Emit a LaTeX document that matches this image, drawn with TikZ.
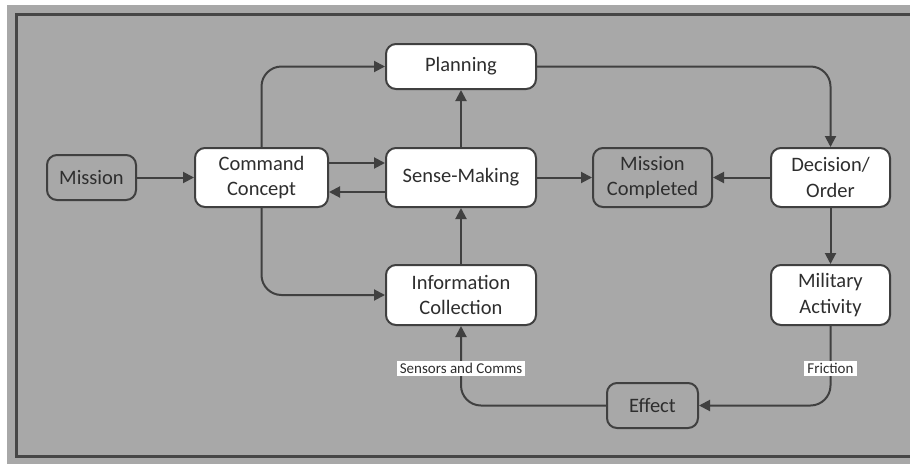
\documentclass[tikz,border=0pt]{standalone}
\usepackage{fontspec}
\setmainfont{Carlito}
\usetikzlibrary{arrows.meta}
\definecolor{bg}{HTML}{A8A8A8}
\definecolor{ln}{HTML}{404040}
\definecolor{tx}{HTML}{2E2E2E}
\tikzset{
  box/.style={draw=ln, line width=2pt, rounded corners=10pt, fill=white, text=tx,
    align=center, inner sep=0pt, font=\fontsize{20.5}{25.5}\selectfont},
  gbox/.style={box, fill=bg},
  arr/.style={draw=ln, line width=2pt, -{Triangle[length=11pt,width=11pt]}},
  lbl/.style={fill=white, text=tx, inner xsep=3pt, inner ysep=2pt, font=\fontsize{15}{17}\selectfont}
}
\begin{document}
\begin{tikzpicture}[x=1pt,y=-1pt]
\clip (0,0) rectangle (910,464);
\fill[white] (0,0) rectangle (910,464);
\fill[bg] (7,5) rectangle (910,464);
\draw[draw=ln!90!gray, line width=3pt] (16,14) rectangle (930,456);

\node[gbox, minimum width=89pt, minimum height=45pt] (mission) at (91.5,177.5) {Mission};
\node[box, minimum width=133pt, minimum height=59pt] (cc) at (261.5,177.5) {Command\\Concept};
\node[box, minimum width=150pt, minimum height=45pt] (plan) at (461,66.5) {Planning};
\node[box, minimum width=150pt, minimum height=59pt] (sm) at (461,177.5) {Sense-Making};
\node[gbox, minimum width=119pt, minimum height=59pt] (mc) at (652.5,177.5) {Mission\\Completed};
\node[box, minimum width=119pt, minimum height=59pt] (dec) at (830.5,177.5) {Decision/\\Order};
\node[box, minimum width=150pt, minimum height=60pt] (ic) at (461,295) {Information\\Collection};
\node[box, minimum width=119pt, minimum height=60pt] (ma) at (830.5,295) {Military\\Activity};
\node[gbox, minimum width=91pt, minimum height=45pt] (eff) at (652.5,405.5) {Effect};

\draw[arr] (mission) -- (cc);
\draw[arr, rounded corners=20pt] (cc.north) |- (plan.west);
\draw[arr, rounded corners=20pt] (cc.south) |- (ic.west);
\draw[arr] ([yshift=14.5pt]cc.east) -- ([yshift=14.5pt]sm.west);
\draw[arr] ([yshift=-14.5pt]sm.west) -- ([yshift=-14.5pt]cc.east);
\draw[arr] (sm) -- (plan);
\draw[arr] (ic) -- (sm);
\draw[arr] (sm) -- (mc);
\draw[arr] (dec) -- (mc);
\draw[arr] (dec) -- (ma);
\draw[arr, rounded corners=20pt] (plan.east) -| (dec.north);
\draw[arr, rounded corners=20pt] (ma.south) |- (eff.east);
\draw[arr, rounded corners=20pt] (eff.west) -| (ic.south);
\path (ma.south) -- (ma.south |- eff.east) node[pos=0.534, lbl] (fr) {Friction};
\path (ic.south) -- (ic.south |- eff.west) node[pos=0.534, lbl] (sc) {Sensors and Comms};
\end{tikzpicture}
\end{document}
